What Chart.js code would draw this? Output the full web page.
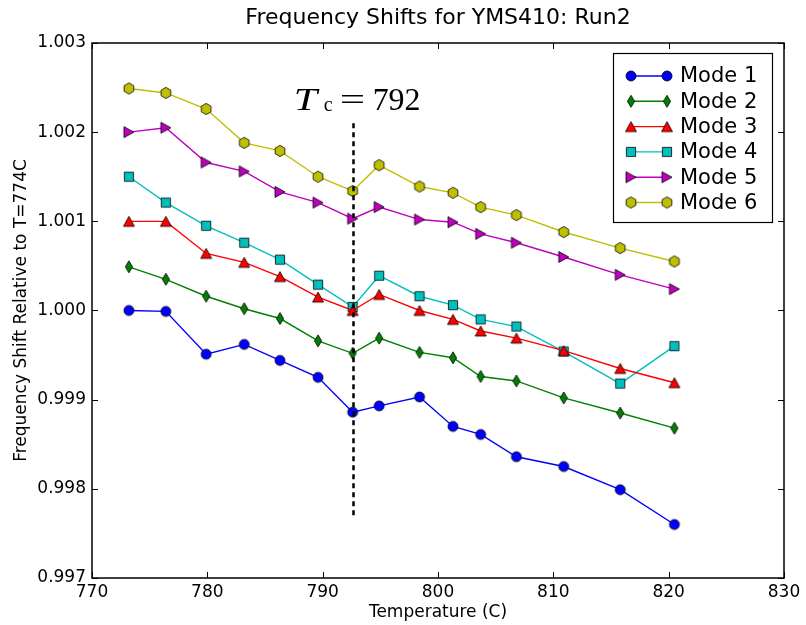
<!DOCTYPE html>
<html>
<head>
<meta charset="utf-8">
<script src="https://cdn.jsdelivr.net/npm/chart.js@4/dist/chart.umd.min.js"></script>
<style>
  html, body { margin: 0; padding: 0; background: #fff; }
  #wrap { width: 806px; height: 625px; }
</style>
</head>
<body>
<div id="wrap"><canvas id="c" width="806" height="625"></canvas></div>
<script>
// ---- data ----
const temps = [773.2, 776.4, 779.9, 783.2, 786.3, 789.6, 792.6, 794.9, 798.4, 801.3, 803.7, 806.8, 810.9, 815.8, 820.5];
const mode1 = [1.00000, 0.99999, 0.99951, 0.99962, 0.99944, 0.99925, 0.99886, 0.99893, 0.99903, 0.99870, 0.99861, 0.99836, 0.99825, 0.99799, 0.99760];
const mode2 = [1.00049, 1.00035, 1.00016, 1.00002, 0.99991, 0.99966, 0.99952, 0.99969, 0.99953, 0.99947, 0.99926, 0.99921, 0.99902, 0.99885, 0.99868];
const mode3 = [1.00100, 1.00100, 1.00064, 1.00054, 1.00038, 1.00015, 1.00000, 1.00018, 1.00000, 0.99990, 0.99977, 0.99969, 0.99955, 0.99935, 0.99919];
const mode4 = [1.00150, 1.00121, 1.00095, 1.00076, 1.00057, 1.00029, 1.00004, 1.00039, 1.00016, 1.00006, 0.99990, 0.99982, 0.99954, 0.99918, 0.99960];
const mode5 = [1.00200, 1.00205, 1.00166, 1.00156, 1.00133, 1.00121, 1.00103, 1.00116, 1.00102, 1.00099, 1.00086, 1.00076, 1.00060, 1.00040, 1.00024];
const mode6 = [1.00249, 1.00244, 1.00226, 1.00188, 1.00179, 1.00150, 1.00134, 1.00163, 1.00139, 1.00132, 1.00116, 1.00107, 1.00088, 1.00070, 1.00055];
const seriesNames = ["Mode 1", "Mode 2", "Mode 3", "Mode 4", "Mode 5", "Mode 6"];
const xTicks = [770, 780, 790, 800, 810, 820, 830];
const yTicks = [0.997, 0.998, 0.999, 1.000, 1.001, 1.002, 1.003];
const tcValue = 792;
const tcLineX = 792.6;
const tcLineY = [0.99768, 1.0021];
const chartTitle = 'Frequency Shifts for YMS410: Run2';

// ---- styles ----
const colors = ["#0000ff", "#008000", "#ff0000", "#00bfbf", "#bf00bf", "#bfbf00"];
const shapes = ["circle", "thinDiamond", "triUp", "square", "triRight", "hexagon"];

function makeMarker(shape, fill) {
  const S = 18;
  const cv = document.createElement('canvas');
  cv.width = S; cv.height = S;
  const ctx = cv.getContext('2d');
  const c = S / 2;
  ctx.beginPath();
  if (shape === 'circle') {
    ctx.arc(c, c, 5, 0, Math.PI * 2);
  } else if (shape === 'thinDiamond') {
    ctx.moveTo(c, c - 6); ctx.lineTo(c + 3.6, c); ctx.lineTo(c, c + 6); ctx.lineTo(c - 3.6, c); ctx.closePath();
  } else if (shape === 'triUp') {
    ctx.moveTo(c, c - 5); ctx.lineTo(c + 5.5, c + 5); ctx.lineTo(c - 5.5, c + 5); ctx.closePath();
  } else if (shape === 'triRight') {
    ctx.moveTo(c + 5, c); ctx.lineTo(c - 5, c + 5.5); ctx.lineTo(c - 5, c - 5.5); ctx.closePath();
  } else if (shape === 'square') {
    ctx.rect(c - 4.6, c - 4.6, 9.2, 9.2);
  } else if (shape === 'hexagon') {
    const r = 5.6;
    for (let i = 0; i < 6; i++) {
      const a = -Math.PI / 2 + i * Math.PI / 3;
      const px = c + r * Math.cos(a), py = c + r * Math.sin(a);
      if (i === 0) ctx.moveTo(px, py); else ctx.lineTo(px, py);
    }
    ctx.closePath();
  }
  ctx.fillStyle = fill;
  ctx.fill();
  ctx.lineWidth = 0.8;
  ctx.strokeStyle = '#000';
  ctx.stroke();
  return cv;
}

const allModes = [mode1, mode2, mode3, mode4, mode5, mode6];
const markers = shapes.map((s, i) => makeMarker(s, colors[i]));

const datasets = allModes.map((vals, i) => ({
  label: seriesNames[i],
  data: temps.map((t, j) => ({ x: t, y: vals[j] })),
  borderColor: colors[i],
  backgroundColor: colors[i],
  borderWidth: 1.4,
  pointStyle: markers[i],
  pointRadius: 5,
  pointHoverRadius: 5,
  tension: 0,
  fill: false
}));

const FONT = "'DejaVu Sans', sans-serif";
const SERIF = "'Liberation Serif', serif";

// ---- title, frame, inner ticks, Tc annotation, legend ----
const decorPlugin = {
  id: 'decor',
  afterDatasetsDraw(chart) {
    const ctx = chart.ctx;
    const a = chart.chartArea;
    const xs = chart.scales.x, ys = chart.scales.y;
    ctx.save();

    // title centred over the plot area
    ctx.fillStyle = '#000';
    ctx.font = "22px " + FONT;
    ctx.textAlign = 'center';
    ctx.textBaseline = 'middle';
    ctx.fillText(chartTitle, (a.left + a.right) / 2, 18);

    // Tc dashed line
    const lx = xs.getPixelForValue(tcLineX);
    const ly0 = ys.getPixelForValue(tcLineY[0]);
    const ly1 = ys.getPixelForValue(tcLineY[1]);
    ctx.beginPath();
    ctx.setLineDash([5, 4]);
    ctx.lineWidth = 2.5;
    ctx.strokeStyle = '#000';
    ctx.moveTo(Math.round(lx) + 0.5, ly1);
    ctx.lineTo(Math.round(lx) + 0.5, ly0);
    ctx.stroke();
    ctx.setLineDash([]);

    // Tc label
    const base = ly1 - 13;
    ctx.fillStyle = '#000';
    ctx.textBaseline = 'alphabetic';
    ctx.textAlign = 'left';
    ctx.save();
    ctx.font = "italic 31px " + SERIF;
    ctx.translate(lx - 59, base);
    ctx.scale(1.35, 1);
    ctx.fillText('T', 0, 0);
    ctx.restore();
    ctx.font = "20px " + SERIF;
    ctx.fillText('c', lx - 29, base + 1);
    ctx.save();
    ctx.font = "31px " + SERIF;
    ctx.translate(lx - 13, base);
    ctx.scale(1.45, 1);
    ctx.fillText('=', 0, 0);
    ctx.restore();
    ctx.save();
    ctx.font = "31px " + SERIF;
    ctx.translate(lx + 20, base);
    ctx.scale(1.03, 1);
    ctx.fillText(String(tcValue), 0, 0);
    ctx.restore();

    // frame
    ctx.lineWidth = 1.5;
    ctx.strokeStyle = '#000';
    ctx.strokeRect(a.left, a.top, a.right - a.left, a.bottom - a.top);

    // inner ticks
    ctx.lineWidth = 1;
    const tl = 6;
    ctx.beginPath();
    xTicks.forEach(v => {
      const px = Math.round(xs.getPixelForValue(v)) + 0.5;
      ctx.moveTo(px, a.bottom); ctx.lineTo(px, a.bottom - tl);
      ctx.moveTo(px, a.top); ctx.lineTo(px, a.top + tl);
    });
    yTicks.forEach(v => {
      const py = Math.round(ys.getPixelForValue(v)) + 0.5;
      ctx.moveTo(a.left, py); ctx.lineTo(a.left + tl, py);
      ctx.moveTo(a.right, py); ctx.lineTo(a.right - tl, py);
    });
    ctx.stroke();

    // legend
    const L = { x: 613, y: 53, w: 159, h: 169 };
    ctx.fillStyle = '#fff';
    ctx.fillRect(L.x, L.y, L.w, L.h);
    ctx.lineWidth = 1.2;
    ctx.strokeStyle = '#000';
    ctx.strokeRect(L.x + 0.5, L.y + 0.5, L.w, L.h);
    ctx.font = "21px " + FONT;
    ctx.textBaseline = 'middle';
    chart.data.datasets.forEach((ds, i) => {
      const ry = 76 + i * 25.3;
      ctx.beginPath();
      ctx.strokeStyle = ds.borderColor;
      ctx.lineWidth = 1.4;
      ctx.moveTo(631, ry); ctx.lineTo(667, ry);
      ctx.stroke();
      const m = ds.pointStyle;
      ctx.drawImage(m, 631 - m.width / 2, ry - m.height / 2);
      ctx.drawImage(m, 667 - m.width / 2, ry - m.height / 2);
      ctx.fillStyle = '#000';
      ctx.fillText(ds.label, 680, ry + 1);
    });
    ctx.restore();
  }
};

new Chart(document.getElementById('c'), {
  type: 'line',
  data: { datasets },
  options: {
    responsive: false,
    animation: false,
    events: [],
    layout: { padding: { left: 0, right: 22, top: 43, bottom: 0 } },
    plugins: {
      legend: { display: false },
      tooltip: { enabled: false },
      title: { display: false }
    },
    scales: {
      x: {
        type: 'linear',
        min: 770, max: 830,
        afterBuildTicks: s => { s.ticks = xTicks.map(v => ({ value: v })); },
        afterFit: s => { s.height = 47; },
        grid: { display: false, drawTicks: false },
        border: { display: false },
        ticks: {
          color: '#000',
          font: { family: FONT, size: 17 },
          padding: 4,
          maxRotation: 0,
          callback: v => String(v)
        },
        title: {
          display: true,
          text: 'Temperature (C)',
          color: '#000',
          font: { family: FONT, size: 17 },
          padding: { top: 0, bottom: 2 }
        }
      },
      y: {
        type: 'linear',
        min: 0.997, max: 1.003,
        afterBuildTicks: s => { s.ticks = yTicks.map(v => ({ value: v })); },
        afterFit: s => { s.width = 92; },
        grid: { display: false, drawTicks: false },
        border: { display: false },
        ticks: {
          color: '#000',
          font: { family: FONT, size: 17 },
          padding: 6,
          callback: v => Number(v).toFixed(3)
        },
        title: {
          display: true,
          text: 'Frequency Shift Relative to T=774C',
          color: '#000',
          font: { family: FONT, size: 17 },
          padding: { top: 11, bottom: 0 }
        }
      }
    }
  },
  plugins: [decorPlugin]
});
</script>
</body>
</html>
